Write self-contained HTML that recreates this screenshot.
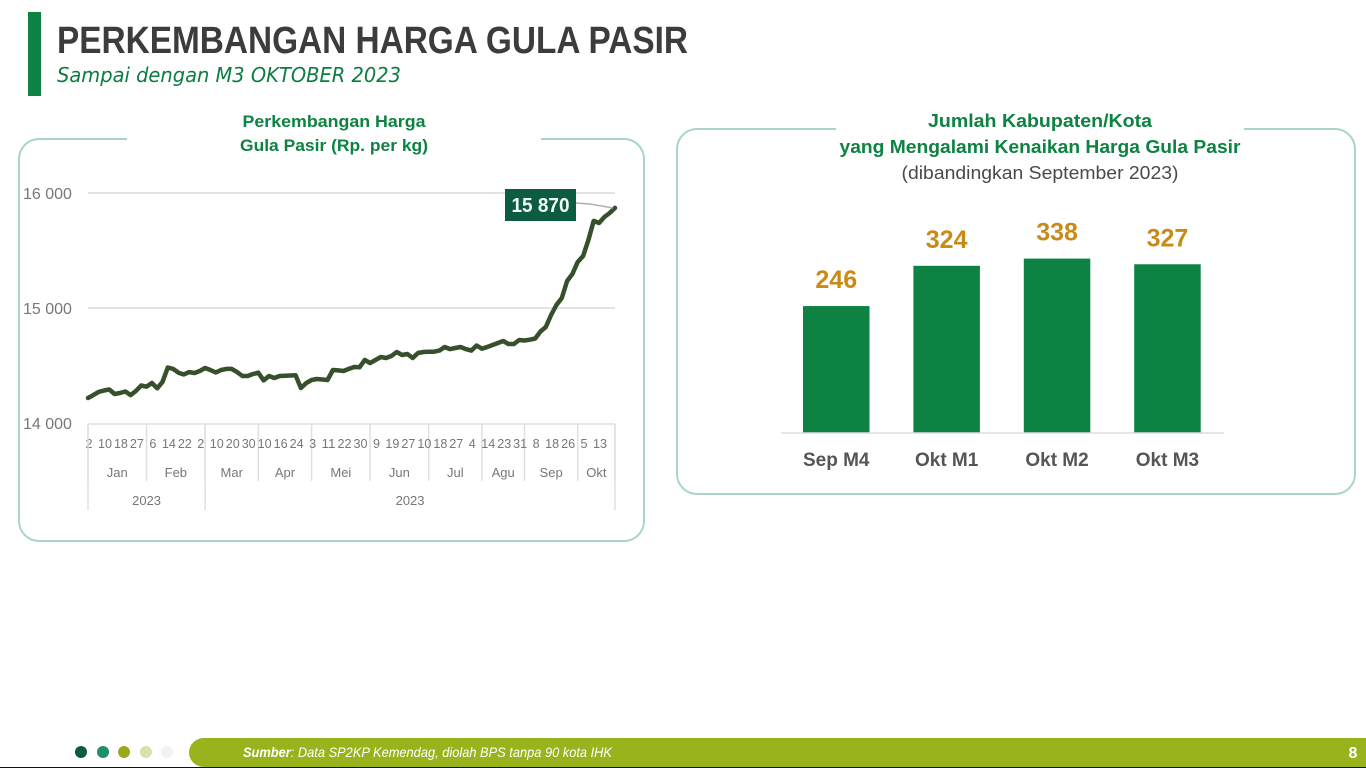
<!DOCTYPE html>
<html lang="id">
<head>
<meta charset="utf-8">
<title>Perkembangan Harga Gula Pasir</title>
<style>
html,body{margin:0;padding:0;background:#fff;width:1366px;height:768px;overflow:hidden}
svg{display:block;font-family:"Liberation Sans",sans-serif}
</style>
</head>
<body>
<svg id="slide" width="1366" height="768" viewBox="0 0 1366 768" xmlns="http://www.w3.org/2000/svg">
  <rect x="0" y="0" width="1366" height="768" fill="#ffffff"/>
  <rect x="28" y="12" width="13" height="84" fill="#0d8242"/>
  <text x="57" y="53" font-size="38" font-weight="bold" fill="#3c3c3c" textLength="631" lengthAdjust="spacingAndGlyphs">PERKEMBANGAN HARGA GULA PASIR</text>
  <text x="57" y="82" font-size="20" font-style="italic" fill="#0b7d40" font-family="'DejaVu Sans',sans-serif" textLength="344" lengthAdjust="spacingAndGlyphs">Sampai dengan M3 OKTOBER 2023</text>

  <rect x="19" y="139" width="625" height="402" rx="20" fill="#ffffff" stroke="#a9d6c4" stroke-width="2"/>
  <rect x="127" y="130" width="414" height="20" fill="#ffffff"/>
  <text x="334" y="127" text-anchor="middle" font-size="17" font-weight="bold" fill="#0d8242" textLength="183" lengthAdjust="spacingAndGlyphs">Perkembangan Harga</text>
  <text x="334" y="151" text-anchor="middle" font-size="17" font-weight="bold" fill="#0d8242" textLength="188" lengthAdjust="spacingAndGlyphs">Gula Pasir (Rp. per kg)</text>
  <g id="price-chart"></g>

  <rect x="677" y="129" width="678" height="365" rx="20" fill="#ffffff" stroke="#a9d6c4" stroke-width="2"/>
  <rect x="836" y="120" width="408" height="20" fill="#ffffff"/>
  <text x="1040" y="127" text-anchor="middle" font-size="18" font-weight="bold" fill="#0d8242" textLength="224" lengthAdjust="spacingAndGlyphs">Jumlah Kabupaten/Kota</text>
  <text x="1040" y="153" text-anchor="middle" font-size="18" font-weight="bold" fill="#0d8242" textLength="401" lengthAdjust="spacingAndGlyphs">yang Mengalami Kenaikan Harga Gula Pasir</text>
  <text x="1040" y="179" text-anchor="middle" font-size="18" fill="#4a4a4a" textLength="277" lengthAdjust="spacingAndGlyphs">(dibandingkan September 2023)</text>
  <g id="count-chart"></g>

  <rect x="0" y="767" width="1366" height="1" fill="#111111"/>
  <path d="M1366 738H204a15 14.5 0 0 0 0 29H1366Z" fill="#97b41c"/>
  <circle cx="81" cy="752" r="6" fill="#0a5a45"/>
  <circle cx="103" cy="752" r="6" fill="#1f8f6a"/>
  <circle cx="124" cy="752" r="6" fill="#9aa81c"/>
  <circle cx="146" cy="752" r="6" fill="#d8e2ab"/>
  <circle cx="167" cy="752" r="6" fill="#f2f3f0"/>
  <text x="243" y="757" font-size="14" font-style="italic" fill="#ffffff" textLength="369" lengthAdjust="spacingAndGlyphs"><tspan font-weight="bold">Sumber</tspan>: Data SP2KP Kemendag, diolah BPS tanpa 90 kota IHK</text>
  <text x="1353" y="758" text-anchor="middle" font-size="16" font-weight="bold" fill="#ffffff">8</text>
</svg>
<script>
const priceValues = [14217,14243,14270,14283,14291,14252,14261,14274,14243,14278,
14326,14316,14348,14302,14357,14483,14470,14437,14422,14443,
14435,14452,14478,14461,14439,14461,14470,14470,14443,14409,
14409,14426,14437,14370,14409,14391,14409,14411,14413,14415,
14304,14348,14374,14383,14378,14374,14461,14457,14452,14470,
14487,14484,14548,14522,14548,14574,14565,14583,14617,14591,
14600,14565,14609,14617,14620,14620,14630,14661,14643,14652,
14661,14643,14630,14674,14646,14661,14678,14696,14713,14687,
14687,14722,14717,14724,14735,14796,14835,14939,15026,15087,
15235,15296,15400,15452,15591,15757,15739,15791,15826,15870];
const dayLabels = ["2","10","18","27","6","14","22","2","10","20","30","10","16","24","3","11","22","30","9","19","27","10","18","27","4","14","23","31","8","18","26","5","13"];
const monthLabels = ["Jan","Feb","Mar","Apr","Mei","Jun","Jul","Agu","Sep","Okt"];
const monthPointCounts = [11,11,10,10,11,11,10,8,10,7];
const yearLabels = ["2023","2023"];
const yearMonthCounts = [2,8];
const priceTicks = [14000,15000,16000];
const lastPriceLabel = "15 870";

const countCategories = ["Sep M4","Okt M1","Okt M2","Okt M3"];
const countValues = [246,324,338,327];

const NS = "http://www.w3.org/2000/svg";
function make(parent, tag, attrs, text) {
  const el = document.createElementNS(NS, tag);
  for (const k in attrs) el.setAttribute(k, attrs[k]);
  if (text !== undefined) el.textContent = text;
  parent.appendChild(el);
  return el;
}

/* price line chart */
const priceGroup = document.getElementById("price-chart");
const plotLeft = 88, plotRight = 615;
const axisTop = 424;
function priceX(i) { return plotLeft + i * (plotRight - plotLeft) / (priceValues.length - 1); }
function priceY(v) { return 423 - (v - 14000) * 0.115; }
function fmt(v) { return String(v).replace(/(\d)(\d{3})$/, "$1 $2"); }

priceTicks.forEach(function (t) {
  if (t !== priceTicks[0]) {
    const grid = make(priceGroup, "line", {x1: plotLeft, x2: plotRight, y1: priceY(t), y2: priceY(t), stroke: "#dcdcdc", "stroke-width": 1.5});
    
    
  }
  const lab = make(priceGroup, "text", {x: 23, y: priceY(t) + 6, "font-size": 16, fill: "#777777"}, fmt(t));
  
  
});

const xAxisLine = make(priceGroup, "line", {x1: plotLeft, x2: plotRight, y1: axisTop, y2: axisTop, stroke: "#e0e0e0", "stroke-width": 1.5});



let monthPos = 0;
const monthEdges = [0];
monthLabels.forEach(function (m, i) {
  const start = monthPos;
  monthPos += monthPointCounts[i];
  monthEdges.push(monthPos);
  const t = make(priceGroup, "text", {x: (priceX(start) + priceX(monthPos)) / 2, y: 477, "text-anchor": "middle", "font-size": 13, fill: "#777777"}, m);
  
  
});
monthEdges.forEach(function (e) {
  const s = make(priceGroup, "line", {x1: priceX(e), x2: priceX(e), y1: axisTop, y2: 481, stroke: "#e0e0e0", "stroke-width": 1.5});
  
  
});

dayLabels.forEach(function (d, i) {
  const t = make(priceGroup, "text", {x: priceX(i * 3) + 1, y: 448, "text-anchor": "middle", "font-size": 13, fill: "#777777", stroke: "#ffffff", "stroke-width": 0, textLength: d.length * 7, lengthAdjust: "spacingAndGlyphs"}, d);
  
  
});

let yearMonth = 0;
const firstYearEdge = priceX(monthEdges[0]);
const yearSepStart = make(priceGroup, "line", {x1: firstYearEdge, x2: firstYearEdge, y1: axisTop, y2: 510, stroke: "#e0e0e0", "stroke-width": 1.5});


yearLabels.forEach(function (y, i) {
  const a = priceX(monthEdges[yearMonth]);
  yearMonth += yearMonthCounts[i];
  const b = priceX(monthEdges[yearMonth]);
  const t = make(priceGroup, "text", {x: (a + b) / 2, y: 505, "text-anchor": "middle", "font-size": 13, fill: "#777777"}, y);
  
  
  const s = make(priceGroup, "line", {x1: b, x2: b, y1: axisTop, y2: 510, stroke: "#e0e0e0", "stroke-width": 1.5});
  
  
});

const linePoints = priceValues.map(function (v, i) { return priceX(i).toFixed(1) + "," + priceY(v).toFixed(1); }).join(" ");
const priceLine = make(priceGroup, "polyline", {points: linePoints, fill: "none", stroke: "#35502b", "stroke-width": 4.5, "stroke-linejoin": "round", "stroke-linecap": "round"});



const lastX = priceX(priceValues.length - 1), lastY = priceY(priceValues[priceValues.length - 1]);
const leader = make(priceGroup, "polyline", {points: "576,203 590,204 " + (lastX - 2) + "," + lastY, fill: "none", stroke: "#b0b0b0", "stroke-width": 1.5});


const lastBox = make(priceGroup, "rect", {x: 505, y: 189, width: 71, height: 32, fill: "#0b5c41"});


const lastText = make(priceGroup, "text", {x: 540.5, y: 212, "text-anchor": "middle", "font-size": 20, "font-weight": "bold", fill: "#f2fbf4", textLength: 58, lengthAdjust: "spacingAndGlyphs"}, lastPriceLabel);



/* count bar chart */
const countGroup = document.getElementById("count-chart");
const barBase = 433, barStep = 110.4, barWidth = 66.5, barStart = 803;
function barX(i) { return barStart + i * barStep; }
function barY(v) { return barBase - v * 0.516; }

countValues.forEach(function (v, i) {
  const bar = make(countGroup, "rect", {x: barX(i), y: barY(v), width: barWidth, height: barBase - barY(v), fill: "#0d8242"});
  
  
  const val = make(countGroup, "text", {x: barX(i) + barWidth / 2, y: barY(v) - 18, "text-anchor": "middle", "font-size": 25, "font-weight": "bold", fill: "#c98a17"}, v);
  
  
  const cat = make(countGroup, "text", {x: barX(i) + barWidth / 2, y: 466, "text-anchor": "middle", "font-size": 19, "font-weight": "bold", fill: "#555555"}, countCategories[i]);
  
  
});
const countAxis = make(countGroup, "line", {x1: 781, x2: 1224, y1: barBase, y2: barBase, stroke: "#dddddd", "stroke-width": 1.5});


</script>
</body>
</html>
